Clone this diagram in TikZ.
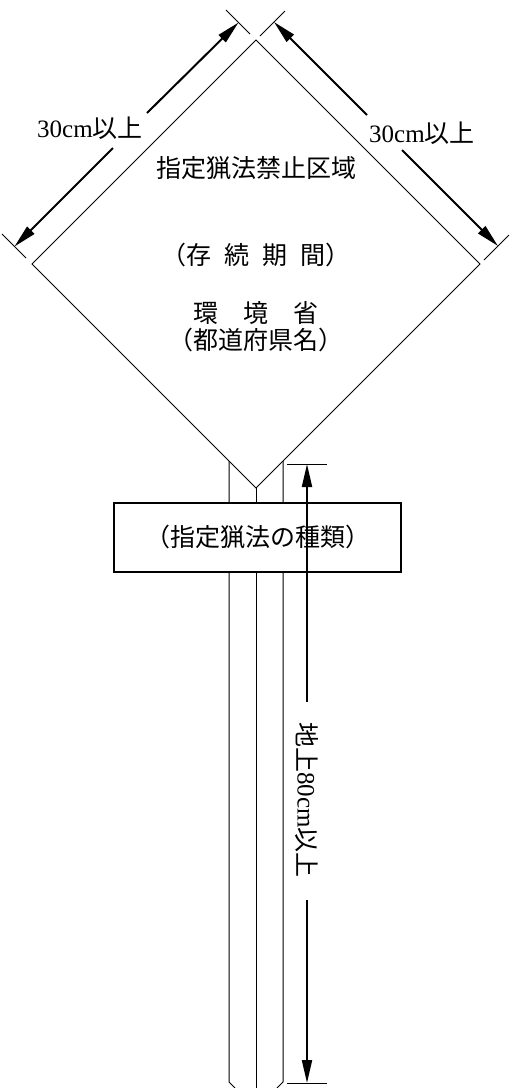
\documentclass[tikz,border=0pt]{standalone}
\usepackage{fontspec}
\setmainfont{Liberation Serif}
\newfontfamily\cjk{Noto Sans CJK JP}
\usetikzlibrary{arrows.meta}
\newcommand{\hsp}{\hspace{6.5pt}}
\tikzset{
  thinline/.style={line width=0.5pt, line join=miter},
  dimline/.style={line width=1pt, -{Triangle[length=11.5pt,width=5pt]}},
  dimtick/.style={line width=0.5pt},
  lbl/.style={font=\fontsize{12.5pt}{15pt}\selectfont, inner sep=0pt, align=center},
  boxstyle/.style={draw, line width=0.6pt, fill=white, minimum width=143.5pt, minimum height=34.5pt, inner sep=0pt}
}
\begin{document}
\begin{tikzpicture}[x=0.5pt,y=-0.5pt]
\useasboundingbox (0,0) rectangle (512,1088);
% diamond vertices
\coordinate (T) at (256,40);
\coordinate (R) at (480,264);
\coordinate (B) at (256,488);
\coordinate (L) at (32,264);
\draw[thinline] (T) -- (R) -- (B) -- (L) -- cycle;
% post
\coordinate (pl1) at (229,461);
\coordinate (pl2) at (229,1082);
\coordinate (pl3) at (235,1088);
\coordinate (pr1) at (283,461);
\coordinate (pr2) at (283,1082);
\coordinate (pr3) at (277,1088);
\coordinate (pc2) at (256,1088);
\draw[thinline] (pl1) -- (pl2) -- (pl3);
\draw[thinline] (pr1) -- (pr2) -- (pr3);
\draw[thinline] (B) -- (pc2);
% sign box
\node[boxstyle, lbl] (box) at (257.5,537.5) {\cjk （指定猟法の種類）};
% texts in diamond
\node[lbl] (t1) at (256,168) {\cjk 指定猟法禁止区域};
\node[lbl] (t2) at (256,255) {\cjk （存\hsp 続\hsp 期\hsp 間）};
\node[lbl] (t3) at (256,313) {\cjk 環　境　省};
\node[lbl] (t4) at (256,340) {\cjk （都道府県名）};
% left diagonal dimension
\coordinate (lt1) at (250,34);
\coordinate (lt2) at (226,10);
\coordinate (lb1) at (26,258);
\coordinate (lb2) at (2,234);
\draw[dimtick] (lt1) -- (lt2);
\draw[dimtick] (lb1) -- (lb2);
\coordinate (la) at (238.5,22.5);
\coordinate (lb) at (14.5,246.5);
\coordinate (lg1) at (147,113);
\coordinate (lg2) at (113,148);
\draw[dimline] (lg1) -- (la);
\draw[dimline] (lg2) -- (lb);
\node[lbl] (ldim) at (90,128) {30cm{\cjk 以上}};
% right diagonal dimension
\coordinate (rt1) at (260,36);
\coordinate (rt2) at (285,11);
\coordinate (rb1) at (484,260);
\coordinate (rb2) at (509,235);
\draw[dimtick] (rt1) -- (rt2);
\draw[dimtick] (rb1) -- (rb2);
\coordinate (ra) at (274,22);
\coordinate (rb) at (498,246);
\coordinate (rg1) at (367,115);
\coordinate (rg2) at (402,150);
\draw[dimline] (rg1) -- (ra);
\draw[dimline] (rg2) -- (rb);
\node[lbl] (rdim) at (422,133) {30cm{\cjk 以上}};
% vertical dimension
\coordinate (vt1) at (287,464);
\coordinate (vt2) at (327,464);
\coordinate (vb1) at (287,1083);
\coordinate (vb2) at (327,1083);
\draw[dimtick] (vt1) -- (vt2);
\draw[dimtick] (vb1) -- (vb2);
\coordinate (va) at (307,464);
\coordinate (vb) at (307,1083);
\coordinate (vg1) at (307,702);
\coordinate (vg2) at (307,900);
\draw[dimline] (vg1) -- (va);
\draw[dimline] (vg2) -- (vb);
\node[lbl, rotate=-90] (vdim) at (307,800) {{\cjk 地上}80cm{\cjk 以上}};
\end{tikzpicture}
\end{document}
